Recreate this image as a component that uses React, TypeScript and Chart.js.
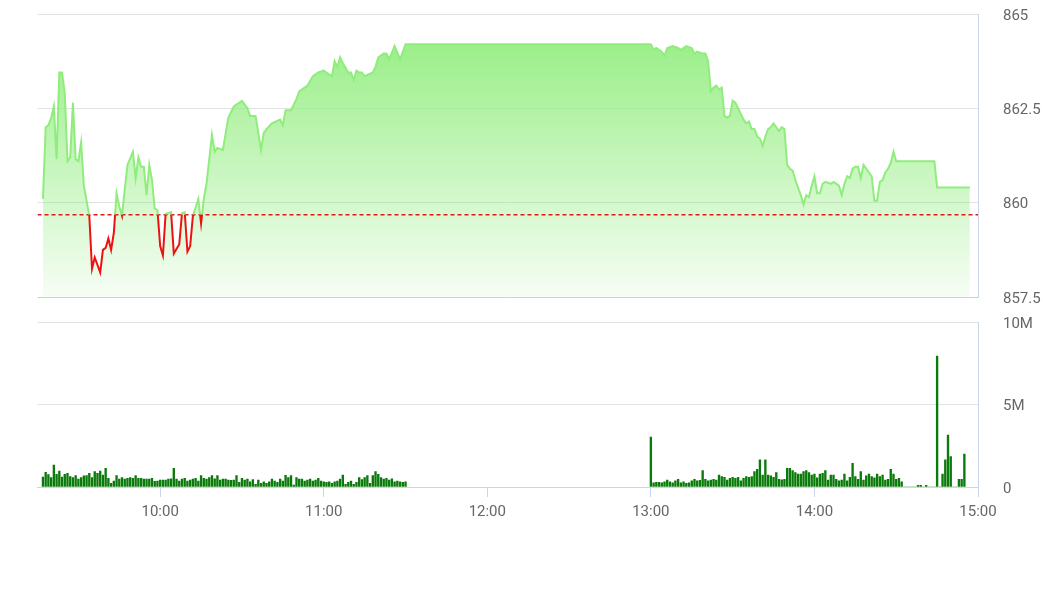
import { useEffect, useRef } from "react";
import { Chart, registerables } from "chart.js";

Chart.register(...registerables);

// ---------- data ----------
const priceTimes = [
  "9:17","9:18","9:19","9:20","9:21","9:22","9:23","9:24","9:25","9:26","9:27","9:28","9:29","9:30","9:31","9:32","9:33","9:34","9:35","9:36","9:38","9:39","9:40","9:41","9:42","9:43","9:44","9:45","9:46","9:47","9:48","9:50","9:51","9:52","9:53","9:54","9:55","9:56","9:57","9:58","9:59",
  "10:00","10:01","10:02","10:04","10:05","10:07","10:08","10:09","10:10","10:11","10:12","10:14","10:15","10:16","10:17","10:19","10:20","10:21","10:23","10:25","10:27","10:30","10:32","10:33","10:35","10:37","10:38","10:39","10:41","10:44","10:45","10:46","10:48","10:50","10:51","10:54","10:56","10:58",
  "11:00","11:01","11:03","11:04","11:05","11:06","11:07","11:09","11:10","11:11","11:12","11:13","11:14","11:15","11:18","11:19","11:20","11:22","11:23","11:24","11:26","11:28","11:30",
  "13:00","13:01","13:02","13:04","13:05","13:06","13:08","13:10","13:11","13:13","13:15","13:16","13:17","13:19","13:20","13:21","13:22","13:23","13:24","13:25","13:26","13:27","13:28","13:29","13:30","13:31","13:33","13:34","13:35","13:36","13:37","13:38","13:39","13:40","13:41","13:42","13:43","13:44","13:45","13:47","13:48","13:49","13:50","13:51","13:52","13:53","13:55","13:56","13:57","13:58","13:59",
  "14:00","14:01","14:02","14:03","14:04","14:06","14:07","14:09","14:10","14:11","14:12","14:13","14:14","14:15","14:16","14:17","14:18","14:19","14:20","14:21","14:22","14:23","14:24","14:25","14:26","14:27","14:28","14:29","14:30","14:44","14:45","14:57",
];
const priceValues = [
  860.1,862.0,862.05,862.25,862.55,861.15,863.45,863.45,862.9,861.1,861.2,862.65,861.15,861.1,861.6,860.45,860.05,859.65,858.25,858.55,858.15,858.75,858.8,859.05,858.75,859.2,860.25,859.9,859.65,860.35,861.0,861.35,860.65,861.2,860.95,860.95,860.2,861.0,860.6,859.85,859.8,
  858.85,858.6,859.7,859.75,858.65,858.9,859.72,859.75,858.7,858.85,859.65,860.1,859.45,860.1,860.5,861.8,861.35,861.45,861.4,862.25,862.55,862.7,862.5,862.3,862.3,861.4,861.85,861.95,862.1,862.2,862.05,862.45,862.45,862.75,862.95,863.1,863.35,863.45,
  863.5,863.45,863.35,863.75,863.6,863.85,863.7,863.45,863.45,863.25,863.5,863.45,863.45,863.35,863.45,863.6,863.85,863.95,863.95,863.8,864.15,863.8,864.2,
  864.2,864.05,864.1,864.0,863.9,864.1,864.15,864.1,864.05,864.15,864.1,863.95,864.0,863.95,863.95,863.75,862.95,863.05,863.1,863.0,863.05,862.3,862.25,862.3,862.7,862.65,862.35,862.2,862.1,862.15,861.95,861.95,861.75,861.7,861.5,861.75,861.95,862.0,862.1,861.9,862.0,861.95,861.0,860.9,860.85,860.6,860.2,859.95,860.2,860.15,860.45,
  860.7,860.25,860.25,860.5,860.55,860.5,860.55,860.45,860.2,860.5,860.7,860.65,860.9,860.95,860.95,860.65,861.0,860.9,860.8,860.7,860.05,860.05,860.55,860.6,860.8,860.9,861.05,861.35,861.1,861.1,860.4,860.4,
];
const prevClose = 859.68;
const priceTicks = [857.5, 860, 862.5, 865];

// volume in millions, one bar per minute
const volAmStart = "9:17";
const volAm = [
  0.6,0.89,0.75,0.57,1.33,0.77,0.97,0.6,0.77,0.83,0.63,0.57,0.69,0.48,0.57,0.68,0.69,0.83,0.57,0.93,0.83,0.97,0.73,1.13,0.53,0.22,0.36,0.69,0.48,0.57,0.48,0.53,0.57,0.53,0.69,0.53,0.53,0.48,0.48,0.48,0.53,0.34,0.36,
  0.42,0.42,0.42,0.48,0.5,1.13,0.48,0.36,0.48,0.53,0.36,0.42,0.48,0.53,0.36,0.69,0.53,0.48,0.57,0.69,0.5,0.69,0.42,0.48,0.48,0.42,0.4,0.42,0.69,0.28,0.53,0.42,0.48,0.32,0.45,0.16,0.42,0.22,0.32,0.22,0.32,0.48,0.36,0.28,0.48,0.36,0.71,0.57,0.69,0.12,0.57,0.48,0.48,0.36,0.42,0.48,0.36,0.42,0.53,0.36,
  0.32,0.28,0.32,0.22,0.32,0.36,0.48,0.73,0.16,0.28,0.36,0.16,0.28,0.57,0.45,0.57,0.69,0.22,0.69,0.93,0.77,0.57,0.48,0.53,0.42,0.5,0.32,0.36,0.32,0.28,0.32,
];
const volPmStart = "13:00";
const volPm = [
  3.03,0.26,0.28,0.28,0.26,0.32,0.42,0.32,0.26,0.38,0.46,0.26,0.32,0.22,0.26,0.38,0.46,0.38,0.4,0.99,0.46,0.38,0.42,0.46,0.42,0.73,0.63,0.59,0.42,0.53,0.59,0.53,0.59,0.38,0.53,0.63,0.59,0.63,0.93,1.07,1.64,0.73,1.64,0.73,0.67,0.59,0.87,0.46,0.44,0.46,1.13,1.13,0.99,0.87,0.79,0.79,0.93,0.99,0.87,0.73,
  0.79,0.55,0.79,0.83,0.99,0.42,0.73,0.73,0.46,0.38,0.42,0.79,0.38,0.59,1.43,0.63,0.46,0.93,0.42,0.67,0.79,0.63,0.55,0.79,0.63,0.73,0.42,0.46,1.07,0.79,0.46,0.53,0.32,0,0,0,0,0,0.1,0.1,0,0.1,0,0,0,7.94,0,0.79,1.64,3.15,1.84,0,0,0.46,0.46,2.0,
];
const volTicks = [0, 5, 10];
const volTickLabels = ["0", "5M", "10M"];
const timeTickLabels = ["10:00", "11:00", "12:00", "13:00", "14:00", "15:00"];
const axisStart = "9:15";
const axisEnd = "15:00";

// ---------- helpers ----------
const toMin = (s: string) => {
  const [h, m] = s.split(":").map(Number);
  return h * 60 + m;
};
const fmtTime = (v: number) => `${Math.floor(v / 60)}:${String(v % 60).padStart(2, "0")}`;

const FONT = { family: "Roboto", size: 15 };
const LABEL = "#666666";
const AXIS = "#ccd6eb";
const GRID = "#e2e2e2";
const GREEN = "#90ed7d";
const RED = "#ee1111";

const zonePlugin = {
  id: "zoneClip",
  beforeDatasetDraw(chart: any, args: any) {
    const ds = chart.data.datasets[args.index];
    if (!ds.zone) return;
    const { ctx, chartArea } = chart;
    const y = chart.scales.y.getPixelForValue(prevClose);
    ctx.save();
    ctx.beginPath();
    const l = chartArea.left - 5;
    const w = chartArea.right - chartArea.left + 10;
    if (ds.zone === "above") ctx.rect(l, chartArea.top - 5, w, y - chartArea.top + 5);
    else ctx.rect(l, y, w, chartArea.bottom - y + 5);
    ctx.clip();
  },
  afterDatasetDraw(chart: any, args: any) {
    const ds = chart.data.datasets[args.index];
    if (ds.zone) chart.ctx.restore();
  },
};

const fitRightAxis = (s: any) => {
  s.width = 77;
  s.paddingTop = 0;
  s.paddingBottom = 0;
};

export default function App() {
  const priceRef = useRef<HTMLCanvasElement>(null);
  const volRef = useRef<HTMLCanvasElement>(null);

  useEffect(() => {
    Chart.defaults.font.family = "Roboto";
    const xMin = toMin(axisStart);
    const xMax = toMin(axisEnd);
    const pricePts = priceTimes.map((t, i) => ({ x: toMin(t), y: priceValues[i] }));
    const amStart = toMin(volAmStart);
    const pmStart = toMin(volPmStart);
    const volPts = [
      ...volAm.map((v, i) => ({ x: amStart + i, y: v })),
      ...volPm.map((v, i) => ({ x: pmStart + i, y: v })),
    ];

    const priceChart = new Chart(priceRef.current!, {
      type: "line",
      data: {
        datasets: [
          {
            data: pricePts,
            borderWidth: 0,
            borderColor: "rgba(0,0,0,0)",
            pointRadius: 0,
            fill: "start",
            order: 4,
            backgroundColor: (c: any) => {
              const { chart } = c;
              const area = chart.chartArea;
              if (!area) return "rgba(144,237,125,0.5)";
              const g = chart.ctx.createLinearGradient(0, area.top, 0, area.bottom);
              g.addColorStop(0, "rgba(144,237,125,1)");
              g.addColorStop(1, "rgba(144,237,125,0.08)");
              return g;
            },
          } as any,
          {
            data: [
              { x: xMin, y: prevClose },
              { x: xMax, y: prevClose },
            ],
            borderColor: "#e01a14",
            borderWidth: 1.5,
            borderDash: [4, 3],
            pointRadius: 0,
            fill: false,
            order: 3,
          } as any,
          {
            data: pricePts,
            borderColor: GREEN,
            borderWidth: 2,
            pointRadius: 0,
            fill: false,
            order: 2,
            zone: "above",
          } as any,
          {
            data: pricePts,
            borderColor: RED,
            borderWidth: 2,
            pointRadius: 0,
            fill: false,
            order: 1,
            zone: "below",
          } as any,
        ],
      },
      options: {
        animation: false,
        responsive: false,
        events: [],
        layout: { padding: { left: 37.5, top: 14, right: 0, bottom: 13 } },
        plugins: { legend: { display: false }, tooltip: { enabled: false } },
        scales: {
          x: { type: "linear", min: xMin, max: xMax, display: false },
          y: {
            position: "right",
            min: priceTicks[0],
            max: priceTicks[priceTicks.length - 1],
            afterBuildTicks: (s: any) => {
              s.ticks = priceTicks.map((v) => ({ value: v }));
            },
            afterFit: fitRightAxis,
            ticks: {
              padding: 25,
              labelOffset: 2,
              color: LABEL,
              font: FONT,
              callback: (v: any) => String(v),
            },
            grid: {
              drawTicks: false,
              color: (c: any) => (c.tick && c.tick.value === priceTicks[0] ? "#cfcfcf" : GRID),
            },
            border: { display: true, color: AXIS },
          },
        },
      } as any,
      plugins: [zonePlugin],
    });

    const hourTicks = timeTickLabels.map(toMin);
    const volChart = new Chart(volRef.current!, {
      type: "bar",
      data: {
        datasets: [
          {
            data: volPts,
            backgroundColor: "#0a7a0a",
            borderWidth: 0,
            barThickness: 1.7,
          } as any,
        ],
      },
      options: {
        animation: false,
        responsive: false,
        events: [],
        layout: { padding: { left: 37.5, top: 12, right: 0, bottom: 0 } },
        plugins: { legend: { display: false }, tooltip: { enabled: false } },
        scales: {
          x: {
            type: "linear",
            min: xMin,
            max: xMax,
            offset: false,
            afterBuildTicks: (s: any) => {
              s.ticks = hourTicks.map((v) => ({ value: v }));
            },
            afterFit: (s: any) => {
              s.height = 106;
            },
            ticks: {
              padding: 6,
              color: LABEL,
              font: FONT,
              maxRotation: 0,
              autoSkip: false,
              callback: (v: any) => fmtTime(Number(v)),
            },
            grid: {
              offset: false,
              drawOnChartArea: false,
              drawTicks: true,
              tickLength: 10,
              color: AXIS,
            },
            border: { display: true, color: AXIS },
          },
          y: {
            position: "right",
            min: volTicks[0],
            max: volTicks[volTicks.length - 1],
            afterBuildTicks: (s: any) => {
              s.ticks = volTicks.map((v) => ({ value: v }));
            },
            afterFit: fitRightAxis,
            ticks: {
              padding: 25,
              labelOffset: 2,
              color: LABEL,
              font: FONT,
              callback: (v: any) => volTickLabels[volTicks.indexOf(Number(v))] ?? "",
            },
            grid: {
              drawTicks: false,
              color: (c: any) => (c.tick && c.tick.value === 0 ? AXIS : GRID),
            },
            border: { display: true, color: AXIS },
          },
        },
      } as any,
    });

    return () => {
      priceChart.destroy();
      volChart.destroy();
    };
  }, []);

  return (
    <div style={{ position: "fixed", left: 0, top: 0, width: 1055, height: 593, background: "#fff" }}>
      <canvas
        ref={priceRef}
        width={1055}
        height={310}
        style={{ position: "absolute", left: 0, top: 0, width: 1055, height: 310 }}
      />
      <canvas
        ref={volRef}
        width={1055}
        height={283}
        style={{ position: "absolute", left: 0, top: 310, width: 1055, height: 283 }}
      />
    </div>
  );
}
